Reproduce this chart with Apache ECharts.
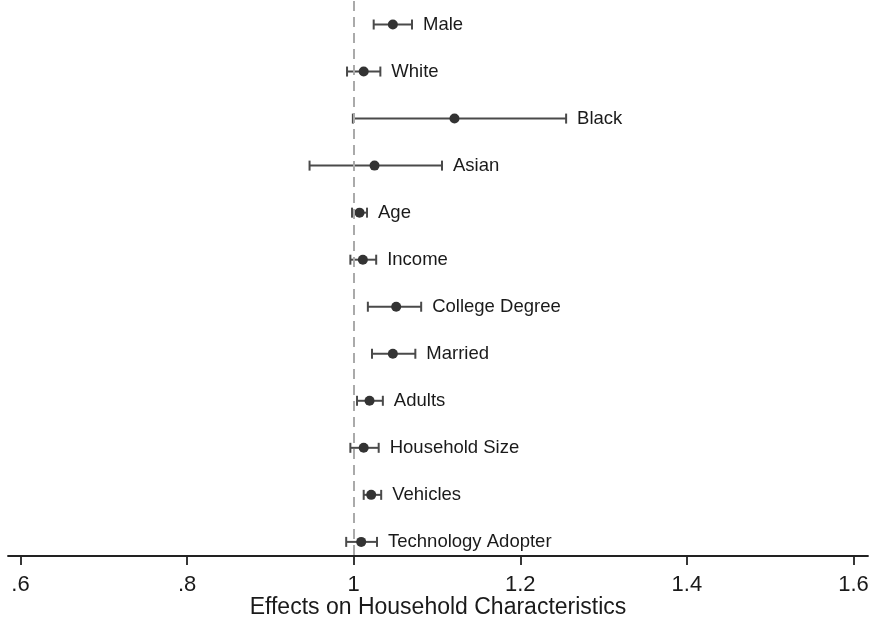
<!DOCTYPE html>
<html>
<head>
<meta charset="utf-8">
<script src="https://cdn.jsdelivr.net/npm/echarts@6/dist/echarts.min.js"></script>
<style>
  html, body { margin: 0; padding: 0; background: #fff; }
  #chart { width: 875px; height: 619px; }
</style>
</head>
<body>
<div id="chart"></div>
<script>
// coefficient plot data
const categories = ['Male', 'White', 'Black', 'Asian', 'Age', 'Income', 'College Degree',
  'Married', 'Adults', 'Household Size', 'Vehicles', 'Technology Adopter'];
const estimates = [1.047, 1.012, 1.121, 1.025, 1.007, 1.011, 1.051, 1.047, 1.019, 1.012, 1.021, 1.009];
const lower = [1.024, 0.992, 0.999, 0.947, 0.998, 0.996, 1.017, 1.022, 1.004, 0.996, 1.012, 0.991];
const upper = [1.070, 1.032, 1.255, 1.106, 1.016, 1.027, 1.081, 1.074, 1.035, 1.030, 1.033, 1.028];
const xTicks = [0.6, 0.8, 1, 1.2, 1.4, 1.6];
const refValue = 1;

const font = '"Liberation Sans", Arial, Helvetica, sans-serif';
const myChart = echarts.init(document.getElementById('chart'));

const seriesData = categories.map((c, i) => [i, estimates[i], lower[i], upper[i]]);

const renderItem = (params, api) => {
  const i = api.value(0);
  const pt = api.coord([api.value(1), i]);
  const lo = api.coord([api.value(2), i]);
  const hi = api.coord([api.value(3), i]);
  const cap = 5;
  const lineStyle = { stroke: '#4a4a4a', lineWidth: 2 };
  return {
    type: 'group',
    children: [
      { type: 'line', shape: { x1: lo[0], y1: lo[1], x2: hi[0], y2: hi[1] }, style: lineStyle },
      { type: 'line', shape: { x1: lo[0], y1: lo[1] - cap, x2: lo[0], y2: lo[1] + cap }, style: lineStyle },
      { type: 'line', shape: { x1: hi[0], y1: hi[1] - cap, x2: hi[0], y2: hi[1] + cap }, style: lineStyle },
      { type: 'circle', shape: { cx: pt[0], cy: pt[1], r: 5 }, style: { fill: '#333' } },
      {
        type: 'text',
        style: {
          x: hi[0] + 11, y: hi[1],
          text: categories[i],
          fill: '#1a1a1a',
          font: '18.5px ' + font,
          verticalAlign: 'middle', align: 'left'
        }
      }
    ]
  };
};

const option = {
  animation: false,
  backgroundColor: '#fff',
  grid: { left: 8, right: 7, top: 1, bottom: 63, outerBoundsMode: 'none', containLabel: false },
  xAxis: {
    type: 'value',
    min: 0.585,
    max: 1.6174,
    name: 'Effects on Household Characteristics',
    nameLocation: 'middle',
    nameGap: 40,
    nameMoveOverlap: false,
    nameTextStyle: { fontFamily: font, fontSize: 23, color: '#1a1a1a' },
    axisLine: { onZero: false, lineStyle: { color: '#222', width: 1.8 } },
    axisTick: { show: true, customValues: xTicks, length: 9, lineStyle: { color: '#222', width: 1.8 } },
    axisLabel: {
      customValues: xTicks,
      margin: 18,
      fontFamily: font,
      fontSize: 22,
      color: '#1a1a1a',
      formatter: v => (v < 1 ? String(v).replace(/^0/, '') : String(v))
    },
    splitLine: { show: false }
  },
  yAxis: {
    type: 'value',
    inverse: true,
    min: -0.5,
    max: 11.3,
    show: false
  },
  series: [
    {
      type: 'line',
      data: [],
      silent: true,
      markLine: {
        silent: true,
        symbol: 'none',
        label: { show: false },
        lineStyle: { color: '#aaa', type: [10, 6], width: 2 },
        data: [{ xAxis: refValue }]
      }
    },
    {
      type: 'custom',
      renderItem: renderItem,
      encode: { x: [1, 2, 3], y: 0 },
      data: seriesData
    }
  ]
};

myChart.setOption(option);
</script>
</body>
</html>
